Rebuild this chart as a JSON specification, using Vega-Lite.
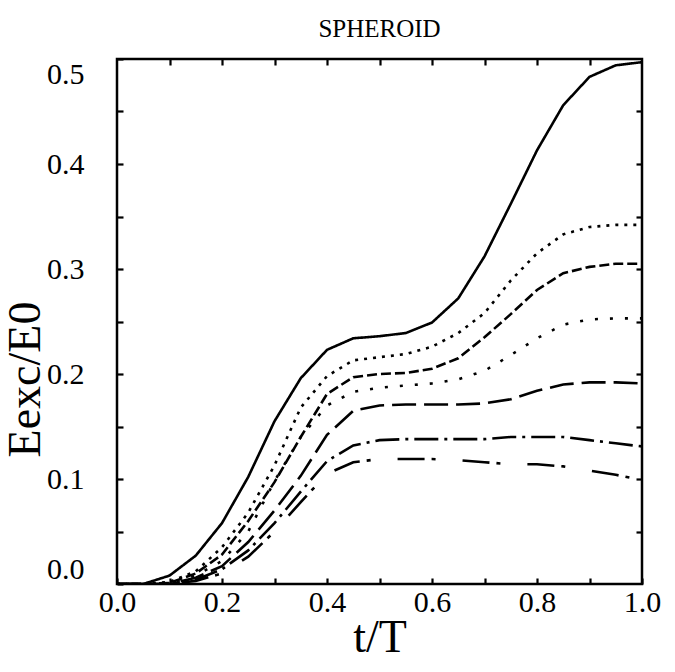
{
  "$schema": "https://vega.github.io/schema/vega-lite/v6.json",
  "width": 525,
  "height": 525,
  "autosize": "none",
  "padding": {"left": 117, "top": 59, "right": 33, "bottom": 88},
  "background": "white",
  "config": {
    "view": {"stroke": "black", "strokeWidth": 2.5},
    "font": "Liberation Serif",
    "axis": {
      "domain": false,
      "grid": false,
      "ticks": true,
      "offset": -6,
      "tickColor": "black",
      "tickOpacity": 1,
      "tickWidth": 2.2,
      "tickSize": 6,
      "zindex": 2,
      "labelColor": "black",
      "labelFont": "Liberation Serif",
      "labelFontSize": 30,
      "titleColor": "black",
      "titleFont": "Liberation Serif",
      "titleFontSize": 46,
      "titleFontWeight": "normal"
    }
  },
  "title": {"text": "SPHEROID", "font": "Liberation Serif", "fontSize": 25, "fontWeight": "normal", "color": "black", "offset": 16},
  "datasets": {
    "curves": [
      {"t":0,"E":0,"s":"a"},{"t":0.05,"E":0,"s":"a"},{"t":0.1,"E":0.008,"s":"a"},{"t":0.15,"E":0.027,"s":"a"},{"t":0.2,"E":0.058,"s":"a"},{"t":0.25,"E":0.102,"s":"a"},{"t":0.3,"E":0.155,"s":"a"},{"t":0.35,"E":0.196,"s":"a"},{"t":0.4,"E":0.223,"s":"a"},{"t":0.45,"E":0.234,"s":"a"},{"t":0.5,"E":0.236,"s":"a"},{"t":0.55,"E":0.239,"s":"a"},{"t":0.6,"E":0.249,"s":"a"},{"t":0.65,"E":0.272,"s":"a"},{"t":0.7,"E":0.312,"s":"a"},{"t":0.75,"E":0.362,"s":"a"},{"t":0.8,"E":0.413,"s":"a"},{"t":0.85,"E":0.456,"s":"a"},{"t":0.9,"E":0.483,"s":"a"},{"t":0.95,"E":0.494,"s":"a"},{"t":1.0,"E":0.497,"s":"a"},
      {"t":0,"E":0,"s":"b"},{"t":0.05,"E":0,"s":"b"},{"t":0.1,"E":0.002,"s":"b"},{"t":0.15,"E":0.012,"s":"b"},{"t":0.2,"E":0.035,"s":"b"},{"t":0.25,"E":0.068,"s":"b"},{"t":0.3,"E":0.113,"s":"b"},{"t":0.35,"E":0.168,"s":"b"},{"t":0.4,"E":0.198,"s":"b"},{"t":0.45,"E":0.213,"s":"b"},{"t":0.5,"E":0.216,"s":"b"},{"t":0.55,"E":0.219,"s":"b"},{"t":0.6,"E":0.226,"s":"b"},{"t":0.65,"E":0.239,"s":"b"},{"t":0.7,"E":0.258,"s":"b"},{"t":0.75,"E":0.289,"s":"b"},{"t":0.8,"E":0.315,"s":"b"},{"t":0.85,"E":0.333,"s":"b"},{"t":0.9,"E":0.34,"s":"b"},{"t":0.95,"E":0.342,"s":"b"},{"t":1.0,"E":0.342,"s":"b"},
      {"t":0,"E":0,"s":"c"},{"t":0.05,"E":0,"s":"c"},{"t":0.1,"E":0.001,"s":"c"},{"t":0.15,"E":0.01,"s":"c"},{"t":0.2,"E":0.028,"s":"c"},{"t":0.25,"E":0.06,"s":"c"},{"t":0.3,"E":0.097,"s":"c"},{"t":0.35,"E":0.14,"s":"c"},{"t":0.4,"E":0.181,"s":"c"},{"t":0.45,"E":0.197,"s":"c"},{"t":0.5,"E":0.2,"s":"c"},{"t":0.55,"E":0.201,"s":"c"},{"t":0.6,"E":0.205,"s":"c"},{"t":0.65,"E":0.215,"s":"c"},{"t":0.7,"E":0.235,"s":"c"},{"t":0.75,"E":0.257,"s":"c"},{"t":0.8,"E":0.28,"s":"c"},{"t":0.85,"E":0.296,"s":"c"},{"t":0.9,"E":0.302,"s":"c"},{"t":0.95,"E":0.305,"s":"c"},{"t":1.0,"E":0.305,"s":"c"},
      {"t":0,"E":0,"s":"d"},{"t":0.05,"E":0,"s":"d"},{"t":0.1,"E":0.001,"s":"d"},{"t":0.15,"E":0.008,"s":"d"},{"t":0.2,"E":0.022,"s":"d"},{"t":0.25,"E":0.05,"s":"d"},{"t":0.3,"E":0.098,"s":"d"},{"t":0.35,"E":0.14,"s":"d"},{"t":0.4,"E":0.17,"s":"d"},{"t":0.45,"E":0.183,"s":"d"},{"t":0.5,"E":0.187,"s":"d"},{"t":0.55,"E":0.189,"s":"d"},{"t":0.6,"E":0.191,"s":"d"},{"t":0.65,"E":0.195,"s":"d"},{"t":0.7,"E":0.203,"s":"d"},{"t":0.75,"E":0.218,"s":"d"},{"t":0.8,"E":0.234,"s":"d"},{"t":0.85,"E":0.247,"s":"d"},{"t":0.9,"E":0.252,"s":"d"},{"t":0.95,"E":0.253,"s":"d"},{"t":1.0,"E":0.253,"s":"d"},
      {"t":0,"E":0,"s":"e"},{"t":0.05,"E":0,"s":"e"},{"t":0.1,"E":0,"s":"e"},{"t":0.15,"E":0.006,"s":"e"},{"t":0.2,"E":0.017,"s":"e"},{"t":0.25,"E":0.04,"s":"e"},{"t":0.3,"E":0.07,"s":"e"},{"t":0.35,"E":0.103,"s":"e"},{"t":0.4,"E":0.142,"s":"e"},{"t":0.45,"E":0.165,"s":"e"},{"t":0.5,"E":0.17,"s":"e"},{"t":0.55,"E":0.171,"s":"e"},{"t":0.6,"E":0.171,"s":"e"},{"t":0.65,"E":0.171,"s":"e"},{"t":0.7,"E":0.172,"s":"e"},{"t":0.75,"E":0.176,"s":"e"},{"t":0.8,"E":0.184,"s":"e"},{"t":0.85,"E":0.19,"s":"e"},{"t":0.9,"E":0.192,"s":"e"},{"t":0.95,"E":0.192,"s":"e"},{"t":1.0,"E":0.191,"s":"e"},
      {"t":0,"E":0,"s":"f"},{"t":0.05,"E":0,"s":"f"},{"t":0.1,"E":0,"s":"f"},{"t":0.15,"E":0.004,"s":"f"},{"t":0.2,"E":0.014,"s":"f"},{"t":0.25,"E":0.032,"s":"f"},{"t":0.3,"E":0.058,"s":"f"},{"t":0.35,"E":0.088,"s":"f"},{"t":0.4,"E":0.117,"s":"f"},{"t":0.45,"E":0.132,"s":"f"},{"t":0.5,"E":0.137,"s":"f"},{"t":0.55,"E":0.138,"s":"f"},{"t":0.6,"E":0.138,"s":"f"},{"t":0.65,"E":0.138,"s":"f"},{"t":0.7,"E":0.138,"s":"f"},{"t":0.75,"E":0.14,"s":"f"},{"t":0.8,"E":0.14,"s":"f"},{"t":0.85,"E":0.14,"s":"f"},{"t":0.9,"E":0.137,"s":"f"},{"t":0.95,"E":0.134,"s":"f"},{"t":1.0,"E":0.131,"s":"f"},
      {"t":0,"E":0,"s":"g"},{"t":0.05,"E":0,"s":"g"},{"t":0.1,"E":0,"s":"g"},{"t":0.15,"E":0.003,"s":"g"},{"t":0.2,"E":0.01,"s":"g"},{"t":0.25,"E":0.026,"s":"g"},{"t":0.3,"E":0.05,"s":"g"},{"t":0.35,"E":0.078,"s":"g"},{"t":0.4,"E":0.105,"s":"g"},{"t":0.45,"E":0.116,"s":"g"},{"t":0.5,"E":0.119,"s":"g"},{"t":0.55,"E":0.119,"s":"g"},{"t":0.6,"E":0.119,"s":"g"},{"t":0.65,"E":0.118,"s":"g"},{"t":0.7,"E":0.116,"s":"g"},{"t":0.75,"E":0.114,"s":"g"},{"t":0.8,"E":0.114,"s":"g"},{"t":0.85,"E":0.112,"s":"g"},{"t":0.9,"E":0.108,"s":"g"},{"t":0.95,"E":0.104,"s":"g"},{"t":1.0,"E":0.099,"s":"g"}
    ]
  },
  "data": {"name": "curves"},
  "layer": [
    {
      "mark": {"type": "line", "color": "black", "strokeWidth": 2.6, "clip": true},
      "encoding": {
        "x": {"field": "t", "type": "quantitative", "scale": {"domain": [0, 1], "nice": false, "zero": false},
              "axis": {"orient": "bottom", "title": "t/T", "values": [0,0.1,0.2,0.3,0.4,0.5,0.6,0.7,0.8,0.9,1.0], "labelExpr": "(round(datum.value*10) % 2 == 0) ? format(datum.value, '.1f') : ''", "labelPadding": 3, "titlePadding": -2, "labelFlush": false, "labelOverlap": false}},
        "y": {"field": "E", "type": "quantitative", "scale": {"domain": [0, 0.5], "nice": false},
              "axis": {"orient": "left", "title": "Eexc/E0", "values": [0,0.05,0.1,0.15,0.2,0.25,0.3,0.35,0.4,0.45,0.5], "labelExpr": "(round(datum.value*20) % 2 == 0) ? format(datum.value, '.1f') : ''", "labelPadding": 33, "titleX": -74, "titleY": 320, "labelFlush": true, "labelOverlap": false}},
        "strokeDash": {"field": "s", "type": "nominal",
              "scale": {"domain": ["a","b","c","d","e","f","g"], "range": [[1,0],[3,6],[10,4],[3,12],[24,8],[24,6,3,6],[27,7,4,27]]},
              "legend": null}
      }
    },
    {
      "mark": {"type": "line", "opacity": 0},
      "encoding": {
        "x": {"field": "t", "type": "quantitative", "scale": {"domain": [0, 1], "nice": false, "zero": false},
              "axis": {"orient": "top", "title": null, "labels": false, "values": [0.1,0.2,0.3,0.4,0.5,0.6,0.7,0.8,0.9]}},
        "y": {"field": "E", "type": "quantitative", "scale": {"domain": [0, 0.5], "nice": false},
              "axis": {"orient": "right", "title": null, "labels": false, "values": [0.05,0.1,0.15,0.2,0.25,0.3,0.35,0.4,0.45]}},
        "detail": {"field": "s", "type": "nominal"}
      }
    }
  ],
  "resolve": {"axis": {"x": "independent", "y": "independent"}}
}
